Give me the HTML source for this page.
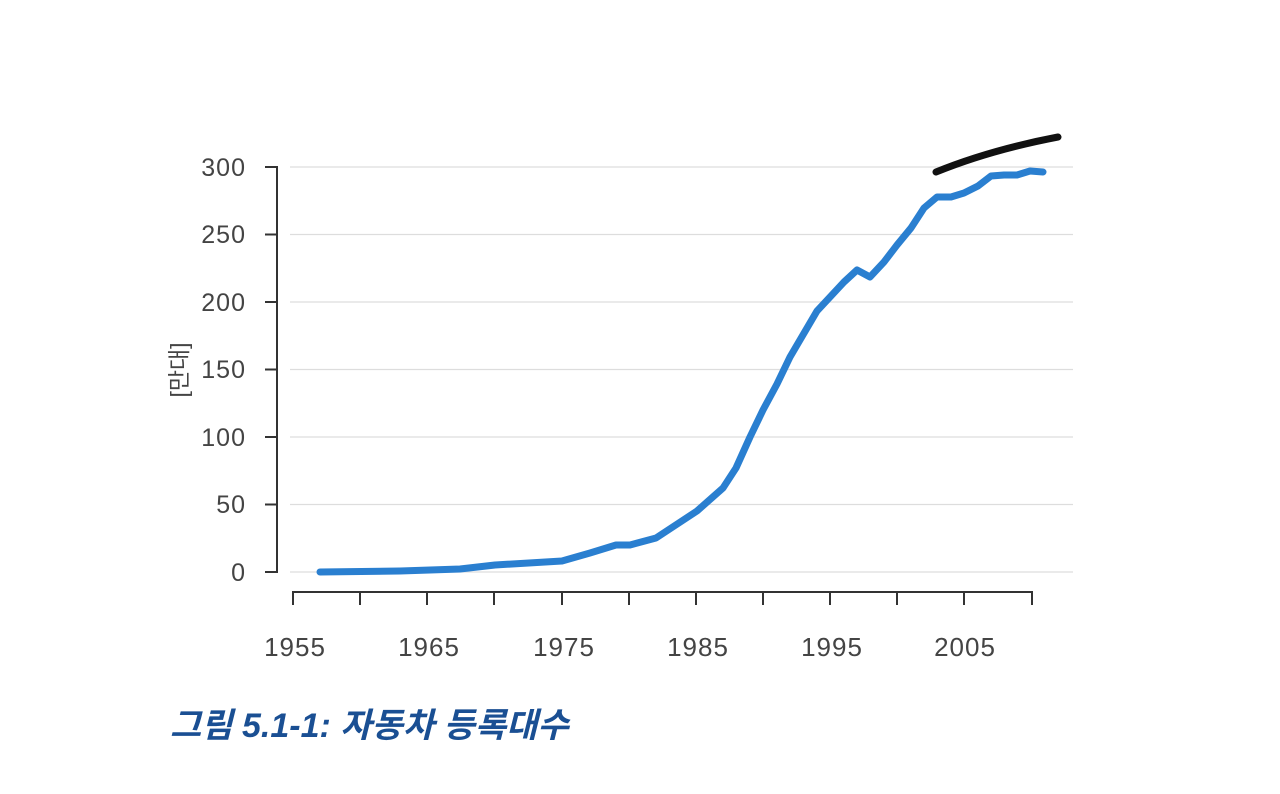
<!DOCTYPE html><html><head><meta charset="utf-8"><style>body{margin:0;background:#fff}</style></head><body>
<svg width="1280" height="789" xmlns="http://www.w3.org/2000/svg" font-family="'Liberation Sans','Noto Sans CJK KR',sans-serif">
<g stroke="#ddd" stroke-width="1.2">
<line x1="290" x2="1073" y1="572" y2="572"/><line x1="290" x2="1073" y1="504.5" y2="504.5"/><line x1="290" x2="1073" y1="437" y2="437"/><line x1="290" x2="1073" y1="369.5" y2="369.5"/><line x1="290" x2="1073" y1="302" y2="302"/><line x1="290" x2="1073" y1="234.5" y2="234.5"/><line x1="290" x2="1073" y1="167" y2="167"/>
</g>
<g stroke="#333" stroke-width="2" fill="none">
<path d="M265 572H277V167H265M265 504.5H277M265 437H277M265 369.5H277M265 302H277M265 234.5H277"/>
<path d="M293 605V592H1032V605M360 592V605M427 592V605M494 592V605M562 592V605M629 592V605M696 592V605M763 592V605M830 592V605M897 592V605M964 592V605"/>
</g>
<g font-size="25" fill="#444" text-anchor="end" letter-spacing="1">
<text x="246" y="581">0</text><text x="246" y="513">50</text><text x="246" y="446">100</text><text x="246" y="378">150</text><text x="246" y="311">200</text><text x="246" y="243">250</text><text x="246" y="176">300</text>
</g>
<g font-size="26" fill="#444" text-anchor="middle" letter-spacing="1">
<text x="295" y="656">1955</text><text x="429" y="656">1965</text><text x="564" y="656">1975</text><text x="698" y="656">1985</text><text x="832" y="656">1995</text><text x="965" y="656">2005</text>
</g>
<text transform="translate(187,370) rotate(-90)" font-size="23" fill="#444" text-anchor="middle">[만대]</text>
<polyline fill="none" stroke="#2a7fd0" stroke-width="7" stroke-linejoin="round" stroke-linecap="round" points="320,572 400,571 460,569 495,565 562,561 590,553 616,545 630,545 656,538 697,511 723,488 736,468 750,437 763,410 777,384 790,357 817,311 844,282 857,270 870,277 884,262 897,245 911,228 924,208 937,197 951,197 964,193 978,186 991,176 1004,175 1017,175 1030,171 1043,172"/>
<path d="M936 172 Q990 150 1058 137" stroke="#111" stroke-width="7" fill="none" stroke-linecap="round"/>
<text x="170" y="737" font-size="34" font-weight="bold" font-style="italic" fill="#1a4f93">그림 5.1-1: 자동차 등록대수</text>
</svg></body></html>
